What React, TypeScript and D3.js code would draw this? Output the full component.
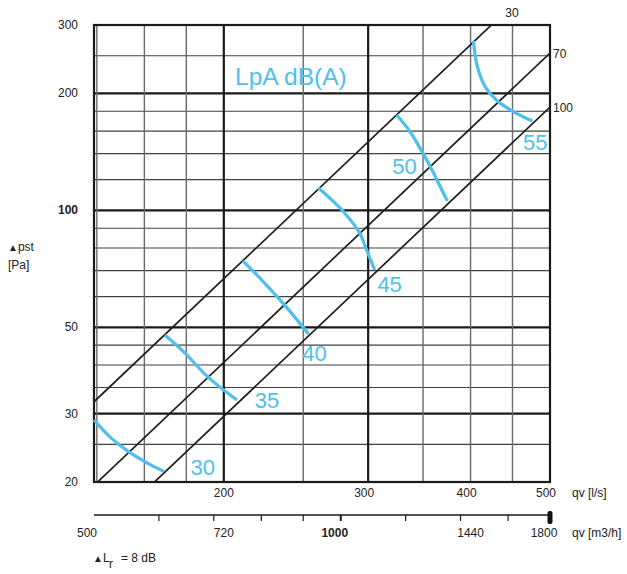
import React from "react";
import * as d3 from "d3";

// Airflow in l/s (top scale) and m3/h (bottom scale)
const qMinLs = 500 / 3.6;
const qMaxLs = 500;
const pMin = 20;
const pMax = 300;

// Grid
const gridQ = [140, 160, 180, 200, 250, 300, 350, 400, 450];
const gridQThick = [200, 300];
const gridP = [25, 30, 35, 40, 45, 50, 60, 70, 80, 90, 100, 120, 140, 160, 180, 200, 250];
const gridPThick = [30, 50, 100, 200];

// Tick labels
const yTicks = [20, 30, 50, 100, 200, 300];
const yTickBold = [100];
const lsTicks = [200, 300, 400, 500];
const m3hTicks = [600, 700, 800, 900, 1000, 1200, 1400, 1600];
const m3hLabels = [500, 720, 1000, 1440, 1800];

// System curves: pressure (Pa) reached at 500 l/s, dp ~ q^2
const systemNames = ["30", "70", "100"];
const systemAt500 = [417, 254, 184.5];

// Sound level isolines LpA dB(A): [q l/s, dp Pa]
const lpaLevels = [30, 35, 40, 45, 50, 55];
const lpa30: [number, number][] = [[138.9, 28.9], [145.3, 26.1], [153.2, 23.9], [161.2, 22.4], [169.0, 21.3]];
const lpa35: [number, number][] = [[169.5, 47.8], [179.2, 43.0], [191.2, 37.3], [207.5, 32.5]];
const lpa40: [number, number][] = [[211.0, 74.1], [223.1, 65.8], [236.7, 57.4], [253.8, 48.1]];
const lpa45: [number, number][] = [[261.0, 114.2], [270.8, 106.4], [280.8, 98.5], [292.9, 87.5], [298.7, 79.1], [305.5, 70.3]];
const lpa50: [number, number][] = [[324.9, 176.0], [337.0, 160.1], [356.4, 130.8], [366.5, 116.2], [374.8, 105.7]];
const lpa55: [number, number][] = [[403.2, 272.8], [407.8, 233.9], [417.0, 207.7], [431.3, 191.2], [449.9, 180.2], [475.8, 169.8]];
const lpaCurves = [lpa30, lpa35, lpa40, lpa45, lpa50, lpa55];

// label placement relative to each isoline's last point (px)
const lpaLabelOffset: [number, number][] = [[39, -4], [30, 0], [6, 20], [15, 15], [-43, -35], [3, 21]];

const W = 627;
const H = 574;
const BLUE = "#4fbfec";
const FONT = "'Liberation Sans', Arial, sans-serif";

export default function App() {
  const left = 94, right = 550, top = 25, bottom = 482;
  const x = d3.scaleLog().domain([qMinLs, qMaxLs]).range([left, right]);
  const xm = d3.scaleLog().domain([500, 1800]).range([left, right]);
  const y = d3.scaleLog().domain([pMin, pMax]).range([bottom, top]);

  const line = d3
    .line<[number, number]>()
    .x((d) => x(d[0]))
    .y((d) => y(d[1]))
    .curve(d3.curveCatmullRom.alpha(0.5));

  const sysLine = d3.line<[number, number]>().x((d) => x(d[0])).y((d) => y(d[1]));
  const sysPath = (c: number) => {
    const pts: [number, number][] = [qMinLs, qMaxLs].map((q) => [q, c * (q / 500) ** 2]);
    return sysLine(pts) || "";
  };

  const axisY = 515;

  return (
    <div style={{ position: "fixed", left: 0, top: 0, background: "#fff" }}>
      <svg width={W} height={H} style={{ display: "block", fontFamily: FONT }}>
        <defs>
          <clipPath id="plot">
            <rect x={left} y={top} width={right - left} height={bottom - top} />
          </clipPath>
        </defs>
        <rect width={W} height={H} fill="#fff" />

        {/* grid */}
        {gridP.map((p) => {
          const thick = gridPThick.includes(p);
          return (
            <line key={"h" + p} x1={left} x2={right} y1={y(p)} y2={y(p)}
              stroke={thick ? "#1a1a1a" : "#404040"} strokeWidth={thick ? 2.4 : 1.1} />
          );
        })}
        {gridQ.map((q) => {
          const thick = gridQThick.includes(q);
          return (
            <line key={"v" + q} x1={x(q)} x2={x(q)} y1={top} y2={bottom}
              stroke={thick ? "#1a1a1a" : "#6a6a6a"} strokeWidth={thick ? 2.2 : 1.4} />
          );
        })}
        <rect x={left} y={top} width={right - left} height={bottom - top}
          fill="none" stroke="#1a1a1a" strokeWidth={2.2} />

        {/* system curves */}
        <g clipPath="url(#plot)">
          {systemAt500.map((c, i) => (
            <path key={"s" + i} d={sysPath(c)} fill="none" stroke="#1e1e1e" strokeWidth={1.7} />
          ))}
        </g>
        <text x={512} y={13} fontSize={12} textAnchor="middle" dominantBaseline="central" fill="#222">
          {systemNames[0]}
        </text>
        {systemAt500.slice(1).map((c, i) => (
          <text key={"sl" + i} x={right + 3} y={y(c) + 1} fontSize={12} dominantBaseline="central" fill="#222">
            {systemNames[i + 1]}
          </text>
        ))}

        {/* LpA isolines */}
        {lpaCurves.map((pts, i) => {
          const last = pts[pts.length - 1];
          const [dx, dy] = lpaLabelOffset[i];
          return (
            <g key={"l" + i}>
              <path d={line(pts) || ""} fill="none" stroke={BLUE} strokeWidth={3.2} strokeLinecap="butt" />
              <text x={x(last[0]) + dx} y={y(last[1]) + dy} fontSize={22} fill={BLUE}
                textAnchor="middle" dominantBaseline="central">
                {lpaLevels[i]}
              </text>
            </g>
          );
        })}
        <text x={235} y={85} fontSize={24.5} fill={BLUE}>LpA dB(A)</text>

        {/* y axis labels */}
        {yTicks.map((p) => (
          <text key={"yt" + p} x={78} y={y(p)} fontSize={12} textAnchor="end" dominantBaseline="central"
            fill="#222" fontWeight={yTickBold.includes(p) ? "bold" : "normal"}>
            {p}
          </text>
        ))}
        <text x={8} y={247} fontSize={12} fill="#222" dominantBaseline="central">
          <tspan fontSize={10}>▲</tspan>pst
        </text>
        <text x={8} y={265} fontSize={12} fill="#222" dominantBaseline="central">[Pa]</text>

        {/* l/s labels */}
        {lsTicks.map((q) => (
          <text key={"ls" + q} x={x(q) - (q === 200 ? 0 : 4)} y={493} fontSize={12} textAnchor="middle"
            dominantBaseline="central" fill="#222">
            {q}
          </text>
        ))}
        <text x={572} y={493} fontSize={12} dominantBaseline="central" fill="#222">qv [l/s]</text>

        {/* m3/h axis */}
        <line x1={left} x2={right} y1={axisY} y2={axisY} stroke="#1a1a1a" strokeWidth={1.6} />
        {m3hTicks.map((m) => (
          <line key={"mt" + m} x1={xm(m)} x2={xm(m)} y1={axisY} y2={axisY + 6}
            stroke="#1a1a1a" strokeWidth={m === 1000 ? 2 : 1.2} />
        ))}
        <rect x={xm(1800) - 2.5} y={axisY - 4} width={5} height={13} rx={2} fill="#111" />
        {m3hLabels.map((m) => (
          <text key={"ml" + m} x={xm(m) + (m === 500 ? -7 : m === 1000 ? -6 : m === 1800 ? -6 : 0)} y={533}
            fontSize={12} textAnchor="middle" dominantBaseline="central" fill="#222"
            fontWeight={m === 1000 ? "bold" : "normal"}>
            {m}
          </text>
        ))}
        <text x={572} y={533} fontSize={12} dominantBaseline="central" fill="#222">qv [m3/h]</text>

        {/* sound correction note */}
        <text x={93} y={558} fontSize={12} fill="#222" dominantBaseline="central">
          <tspan fontSize={10}>▲</tspan>L
        </text>
        <text x={109} y={564} fontSize={12} fill="#222" dominantBaseline="central">r</text>
        <text x={121} y={558} fontSize={12} fill="#222" dominantBaseline="central">= 8 dB</text>
      </svg>
    </div>
  );
}
